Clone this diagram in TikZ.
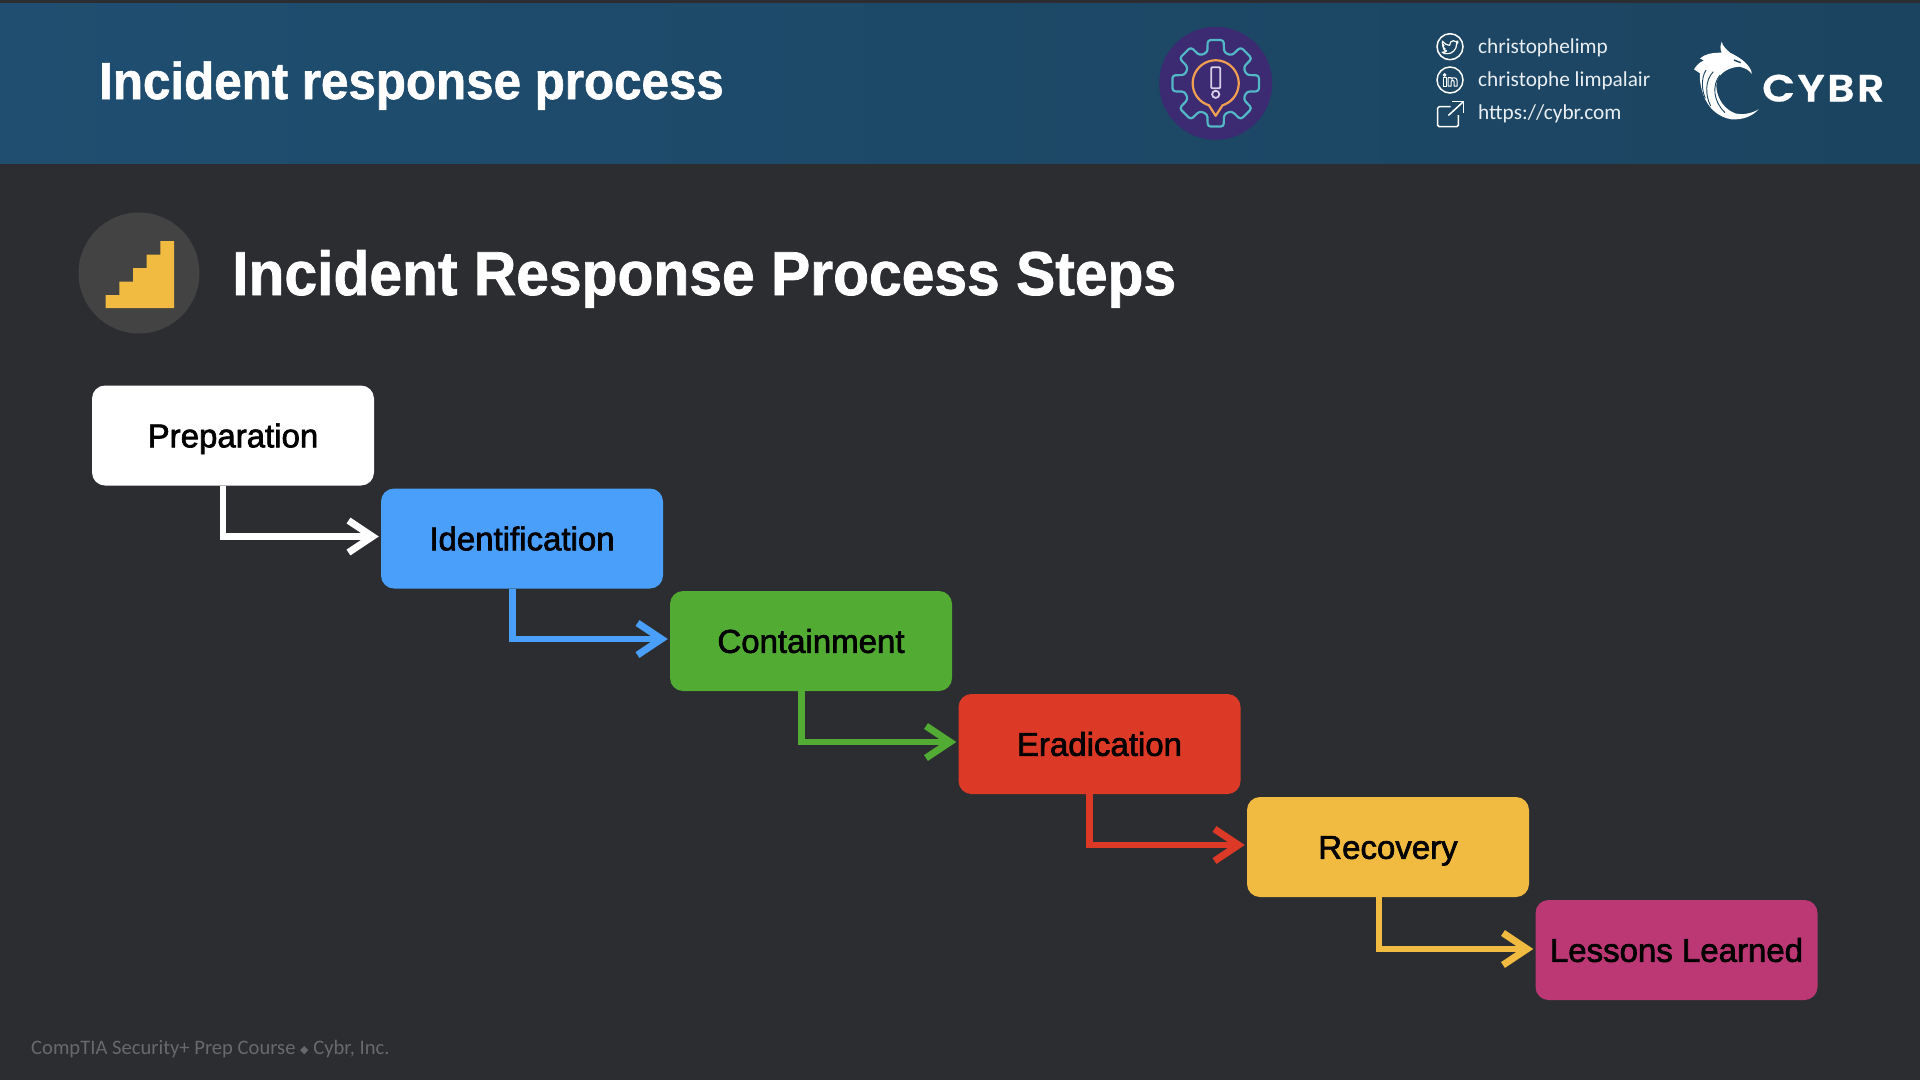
\documentclass[tikz,border=0pt]{standalone}
\usepackage{fontspec}
\usetikzlibrary{arrows.meta}
\setmainfont{Liberation Sans}
\newfontfamily\headfont[FakeStretch=0.948,RawFeature={embolden=1.2}]{Liberation Sans Bold}
\newfontfamily\boxfont[RawFeature={embolden=2}]{Liberation Sans}
\newfontfamily\contactfont{Carlito}
\newfontfamily\logofont[FakeStretch=1.13,LetterSpace=6,RawFeature={embolden=0.6}]{Poppins SemiBold}
\newfontfamily\symfont{DejaVu Sans}
\definecolor{bgdark}{HTML}{2B2D31}
\definecolor{headL}{HTML}{1F4E70}
\definecolor{headR}{HTML}{1B4460}
\definecolor{stepgray}{HTML}{434343}
\definecolor{cBlue}{HTML}{4A9FFA}
\definecolor{cGreen}{HTML}{52AB32}
\definecolor{cRed}{HTML}{DC3A26}
\definecolor{cYellow}{HTML}{F0BB40}
\definecolor{cPink}{HTML}{BB3875}
\definecolor{gearBg}{HTML}{3C2A72}
\definecolor{gearTeal}{HTML}{52B8C6}
\definecolor{gearOrange}{HTML}{F0A050}
\definecolor{gearMark}{HTML}{D8D0E6}
\definecolor{footgray}{HTML}{68696C}
\definecolor{contact}{HTML}{E9EEF2}
\tikzset{
  stepbox/.style={rectangle,rounded corners=13pt,minimum width=282pt,minimum height=100pt,inner sep=0pt,
    text=black,font=\boxfont\fontsize{33}{36}\selectfont,text height=23.6pt,text depth=0pt},
  conn/.style={line width=6.7pt,miter limit=10,shorten >=2pt,
    -{Straight Barb[length=24pt,width=32pt,line width=7pt]}},
  contactlabel/.style={anchor=base west,inner sep=0pt,text=contact,font=\contactfont\fontsize{21.3}{24}\selectfont},
  iconline/.style={draw=white,line width=1.5pt}
}
\begin{document}
\begin{tikzpicture}[x=1pt,y=-1pt]
\useasboundingbox (0,0) rectangle (1920,1080);
\fill[bgdark] (0,0) rectangle (1920,1080);
\shade[left color=headL,right color=headR] (0,3) rectangle (1920,163);

% header texts
\node[anchor=base west,inner sep=0pt,text=white,font=\headfont\fontsize{52}{56}\selectfont] (headtitle) at (99,99) {Incident response process};
\node[anchor=base west,inner sep=0pt,text=white,font=\headfont\fontsize{62}{68}\selectfont] (subtitle) at (232,295) {Incident Response Process Steps};

% gear badge
\begin{scope}[shift={(1215.7,83.3)}]
  \fill[gearBg] (0,0) circle[radius=56.5pt];
  \draw[gearTeal,line width=2.2pt,rounded corners=3pt,line join=round]
    (15:32)
    -- (30:32) -- (34.5:44) -- (55.5:44) -- (60:32)
    -- (75:32) -- (79.5:44) -- (100.5:44) -- (105:32)
    -- (120:32) -- (124.5:44) -- (145.5:44) -- (150:32)
    -- (165:32) -- (169.5:44) -- (190.5:44) -- (195:32)
    -- (210:32) -- (214.5:44) -- (235.5:44) -- (240:32)
    -- (255:32) -- (259.5:44) -- (280.5:44) -- (285:32)
    -- (300:32) -- (304.5:44) -- (325.5:44) -- (330:32)
    -- (345:32) -- (349.5:44) -- (10.5:44) -- cycle;
  \draw[gearOrange,line width=2.2pt,line join=round]
    (107.3:23) -- plot[domain=107.3:432.7,samples=70] (\x:23) -- (0,32.5) -- cycle;
  \draw[gearMark,line width=1.8pt,rounded corners=1pt] (-4.5,-16) rectangle (4.5,5);
  \draw[gearMark,line width=1.8pt] (0,11) circle[radius=3.6pt];
\end{scope}

% stairs badge
\fill[stepgray] (139,273) circle[radius=60.5pt];
\fill[cYellow] (105.7,308) -- (174,308) -- (174,241) -- (160.3,241) -- (160.3,254.5) -- (146.7,254.5) -- (146.7,268) -- (133,268) -- (133,281.5) -- (119.4,281.5) -- (119.4,295) -- (105.7,295) -- cycle;

% contact icons
\draw[iconline] (1450,46.7) circle[radius=13pt];
\begin{scope}[shift={(1450,46.7)}]
  \draw[iconline,line width=1.2pt,line join=round]
    (-7.5,-5.5) .. controls (-5,-2.5) and (-2.5,-1.5) .. (-0.3,-1.3)
    .. controls (-0.8,-4) and (1.2,-6) .. (3.4,-6)
    .. controls (4.6,-6) and (5.2,-5.6) .. (5.8,-5) -- (7.8,-5.6) -- (6.7,-3.8) -- (8,-4.2) -- (6.6,-2.6)
    .. controls (6.8,3) and (1.5,7.5) .. (-3,7)
    .. controls (-5,7) and (-6.8,6.5) .. (-8,5.5)
    .. controls (-6,5.6) and (-4.5,5) .. (-3.4,4.2)
    .. controls (-5,4) and (-6,3) .. (-6.5,2)
    -- (-5,2) .. controls (-6.6,1.2) and (-7.5,0) .. (-7.5,-1.4)
    -- (-6,-1) .. controls (-7.8,-2.2) and (-8.2,-3.8) .. (-7.5,-5.5) -- cycle;
\end{scope}
\draw[iconline] (1450,80) circle[radius=13pt];
\begin{scope}[shift={(1450,80)}]
  \draw[iconline,line width=1pt] (-7,-2.4) rectangle (-3.8,6.2);
  \draw[iconline,line width=1pt] (-5.4,-5) circle[radius=1.3pt];
  \draw[iconline,line width=1pt,line join=round] (-1.8,6.2) -- (-1.8,-2.4) -- (1.2,-2.4) -- (1.2,-1) .. controls (2.4,-3) and (7.2,-3) .. (7.2,1.2) -- (7.2,6.2) -- (4,6.2) -- (4,1.4) .. controls (4,-0.6) and (1.2,-0.6) .. (1.2,1.4) -- (1.2,6.2) -- cycle;
\end{scope}
\draw[iconline,rounded corners=1.5pt] (1450.5,106.7) -- (1437.7,106.7) -- (1437.7,126.7) -- (1458.3,126.7) -- (1458.3,115);
\draw[iconline] (1448.3,115.5) -- (1463,102);
\draw[iconline] (1452,101.7) -- (1463.3,101.7) -- (1463.3,113);

\node[contactlabel] (lblA) at (1478,53) {christophelimp};
\node[contactlabel] (lblB) at (1478,86.5) {christophe limpalair};
\node[contactlabel] (lblC) at (1478,119.5) {https://cybr.com};

% logo
\begin{scope}[shift={(1680,30)},x=0.3333pt,y=-0.3333pt]
  \fill[white] (125,35) .. controls (128,50) and (140,58) .. (150,68)
    .. controls (170,78) and (195,92) .. (208,112) .. controls (214,120) and (215,125) .. (215,132)
    .. controls (208,120) and (195,114) .. (178,110)
    .. controls (150,112) and (120,125) .. (110,155)
    .. controls (104,190) and (125,235) .. (165,250)
    .. controls (190,256) and (215,250) .. (236,238)
    .. controls (218,258) and (190,270) .. (155,268)
    .. controls (115,262) and (85,235) .. (70,195)
    .. controls (62,170) and (58,150) .. (60,130)
    -- (42,118) .. controls (50,105) and (60,95) .. (72,92)
    -- (60,85) .. controls (75,72) and (95,68) .. (125,68)
    .. controls (120,55) and (120,45) .. (125,35) -- cycle;
  \draw[headR,line width=0.9pt] (100,125) .. controls (75,150) and (75,195) .. (92,228);
  \draw[headR,line width=0.9pt] (78,120) .. controls (62,145) and (66,185) .. (76,205);
  \draw[headR,line width=0.9pt] (120,135) .. controls (95,165) and (100,215) .. (135,248);
  \draw[headR,line width=1.4pt] (162,90) -- (182,98);
\end{scope}
\node[anchor=base west,inner sep=0pt,text=white,font=\logofont\fontsize{38}{40}\selectfont] (logoword) at (1762,101.5) {CYBR};

% steps
\node[stepbox,fill=white] (prep) at (233,435.5) {Preparation};
\node[stepbox,fill=cBlue] (iden) at (522,538.5) {Identification};
\node[stepbox,fill=cGreen] (cont) at (811,641) {Containment};
\node[stepbox,fill=cRed] (erad) at (1099.5,744) {Eradication};
\node[stepbox,fill=cYellow] (reco) at (1388,847) {Recovery};
\node[stepbox,fill=cPink] (less) at (1676.5,950) {Lessons Learned};

\draw[conn,white] ([xshift=-10pt]prep.south) |- ([yshift=2pt]iden.west);
\draw[conn,cBlue] ([xshift=-9.5pt]iden.south) |- ([yshift=2pt]cont.west);
\draw[conn,cGreen] ([xshift=-9.5pt]cont.south) |- ([yshift=2pt]erad.west);
\draw[conn,cRed] ([xshift=-10pt]erad.south) |- ([yshift=2pt]reco.west);
\draw[conn,cYellow] ([xshift=-9pt]reco.south) |- ([yshift=1pt]less.west);

% footer
\node[anchor=base west,inner sep=0pt,text=footgray,font=\contactfont\fontsize{20.6}{24}\selectfont] (foot) at (31,1054) {CompTIA Security+ Prep Course {\symfont\fontsize{11}{12}\selectfont\raisebox{0.8pt}{◆}} Cybr, Inc.};
\end{tikzpicture}
\end{document}
